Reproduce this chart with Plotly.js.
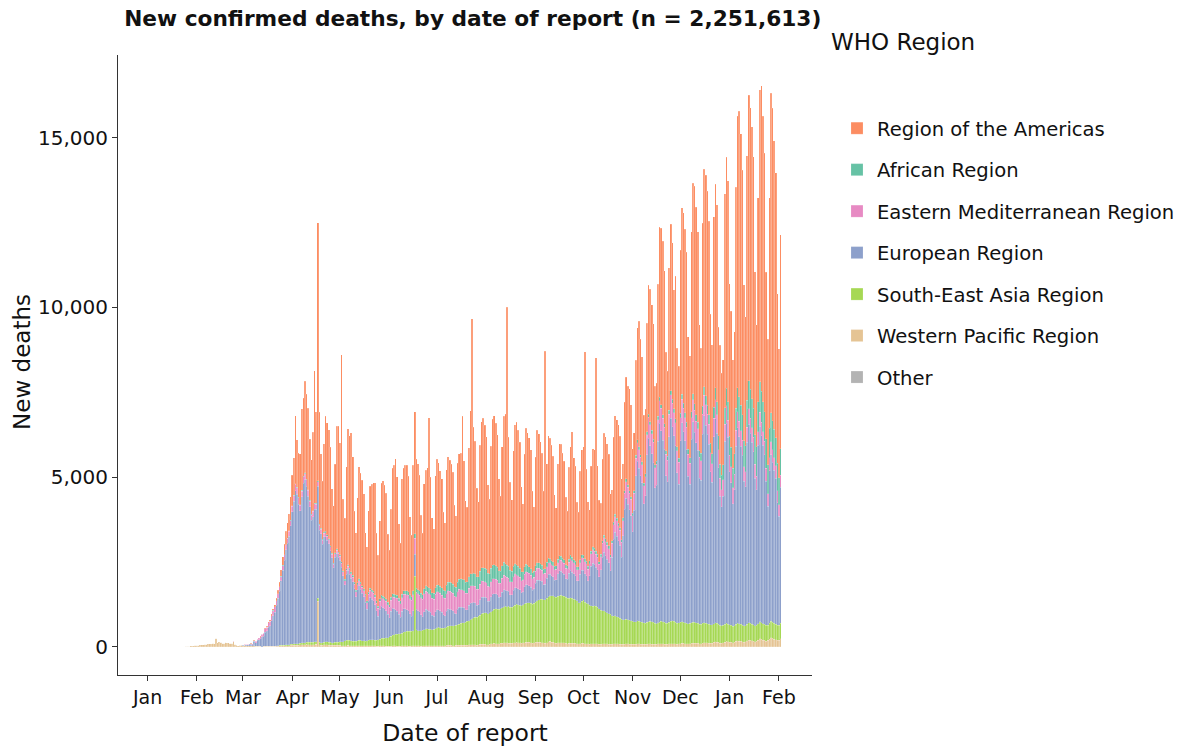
<!DOCTYPE html>
<html>
<head>
<meta charset="utf-8">
<script src="https://cdn.plot.ly/plotly-3.0.1.min.js"></script>
<style>html,body{margin:0;padding:0;background:#fff;}#chart{width:1183px;height:747px;}</style>
</head>
<body>
<div id="chart"></div>
<script>
// Daily values, one row per week (Mon..Sun), from 2020-01-20 to 2021-02-02
const startDate = '2020-01-20';
const monthTicks = ['Jan','Feb','Mar','Apr','May','Jun','Jul','Aug','Sep','Oct','Nov','Dec','Jan','Feb'];

const westernPacific = [
3,3,6,9,8,16,15,
24,26,26,38,43,46,45,
57,64,65,73,73,86,89,
97,108,97,254,121,143,142,
105,98,136,115,118,109,97,
150,71,52,29,44,47,35,
42,31,38,31,30,28,27,
22,17,22,11,7,13,10,
16,15,18,14,12,16,20,
22,25,28,30,32,35,30,
38,40,45,50,48,52,45,
55,60,62,65,70,66,60,
58,62,66,70,1340,60,52,
50,55,58,55,52,50,45,
40,45,45,42,40,38,35,
35,38,40,38,36,35,30,
28,30,32,30,30,28,25,
25,28,30,28,28,26,24,
22,25,26,25,25,24,22,
22,24,26,25,25,24,22,
22,25,28,26,25,24,22,
25,28,30,30,28,26,24,
28,30,32,32,30,28,26,
30,35,38,36,35,34,30,
35,40,42,40,40,38,35,
40,45,50,48,46,45,40,
50,55,60,58,56,55,50,
60,70,75,72,70,68,60,
80,90,95,100,95,90,85,
100,110,115,120,115,110,100,
110,120,125,130,125,120,110,
115,125,130,135,130,120,110,
120,130,140,135,130,125,115,
110,125,150,160,140,130,115,
105,115,120,125,120,115,100,
95,105,110,110,105,100,90,
85,95,100,100,95,90,85,
80,90,95,95,90,85,80,
75,85,90,90,85,80,75,
75,85,90,90,85,80,75,
70,80,85,85,80,75,70,
70,80,85,85,80,75,70,
70,80,85,85,80,75,70,
75,85,90,90,85,80,75,
80,90,95,95,90,85,80,
85,95,100,100,95,90,85,
90,100,110,110,105,100,90,
95,110,120,120,115,110,100,
110,130,150,140,130,110,100,
120,140,160,150,140,130,120,
140,160,180,170,160,150,140,
150,180,200,190,180,170,150,
170,200,240,220,200,190,170,
190,220,260,250,230,210,190,
200,240];

const southEastAsia = [
0,0,0,0,0,0,0,
0,0,0,0,0,0,0,
0,0,0,0,0,0,0,
0,0,0,0,0,0,0,
0,0,0,0,0,0,0,
0,0,0,0,0,0,0,
0,0,0,0,0,0,0,
0,0,0,1,1,2,2,
3,3,5,5,6,8,10,
12,15,18,20,20,22,25,
25,30,35,40,45,45,50,
50,55,60,60,65,70,70,
70,75,80,80,85,80,75,
75,80,85,90,90,85,80,
85,90,95,100,110,110,110,
140,150,160,150,140,135,130,
140,150,160,160,150,150,145,
160,170,180,180,175,170,165,
180,200,220,230,230,240,250,
280,290,310,330,340,350,360,
370,380,400,420,430,440,440,
440,450,2050,470,450,450,450,
460,480,500,500,490,490,480,
490,500,520,540,530,520,510,
520,540,560,580,580,580,580,
590,600,620,640,660,670,680,
700,720,740,770,800,820,820,
840,860,900,920,940,940,920,
920,940,970,1000,1020,1020,1020,
1020,1040,1070,1070,1070,1080,1060,
1060,1080,1100,1120,1120,1110,1100,
1120,1140,1150,1170,1170,1160,1150,
1170,1190,1220,1250,1270,1280,1270,
1280,1300,1330,1350,1360,1370,1360,
1360,1370,1390,1400,1390,1380,1360,
1330,1320,1330,1320,1300,1290,1260,
1220,1200,1240,1270,1220,1200,1180,
1140,1120,1100,1120,1100,1080,1040,
1000,980,970,940,920,900,880,
840,820,820,800,780,760,740,
720,710,720,710,700,690,680,
670,660,680,670,660,650,640,
620,640,660,670,660,650,620,
610,620,640,660,650,640,620,
620,640,660,670,660,640,620,
620,630,640,630,620,610,600,
600,610,620,610,600,590,580,
570,580,590,580,570,560,550,
540,550,560,550,540,530,520,
510,520,530,520,510,500,490,
480,500,520,510,500,490,480,
470,490,510,500,490,480,470,
460,480,500,490,480,470,460,
450,470,490,480,470,460,450,
440,460];

const european = [
0,0,0,0,0,0,0,
0,0,0,0,0,0,0,
0,0,0,0,0,0,0,
0,0,0,0,0,0,0,
0,0,0,0,0,0,0,
3,4,5,4,8,9,12,
18,27,28,41,49,38,135,
100,170,190,220,290,300,420,
450,560,600,750,900,1000,1200,
1400,1600,1900,2200,2500,2800,3000,
3200,3500,3900,4200,4500,4400,4100,
3900,4300,4700,4800,4600,4300,4000,
3600,3700,3900,3900,3300,3300,3200,
2900,3100,3100,3000,2900,2700,2500,
2200,2500,2600,2500,2400,2200,1950,
1650,1950,2050,1950,1850,1750,1550,
1300,1500,1600,1500,1400,1300,1150,
920,1150,1250,1200,1150,1050,880,
700,880,950,900,860,800,680,
560,740,800,760,720,680,580,
480,640,700,670,640,600,510,
440,580,640,610,580,550,470,
400,530,580,550,530,500,420,
380,500,540,520,500,470,400,
360,470,520,490,470,450,380,
350,460,500,480,460,440,370,
340,450,490,470,450,430,360,
340,450,490,470,450,430,360,
340,450,490,470,450,430,360,
350,460,500,480,460,440,370,
360,470,520,490,470,450,380,
380,500,550,520,500,480,400,
420,550,600,580,550,520,440,
460,600,660,630,600,570,480,
510,670,730,700,670,640,540,
560,740,810,770,740,700,600,
640,840,920,880,840,800,680,
880,1160,1270,1210,1160,1100,940,
1200,1580,1730,1650,1580,1500,1280,
1720,2260,2470,2370,2260,2150,1830,
2480,3260,3570,3410,3260,3100,2640,
3280,4300,4700,4500,4300,4100,3500,
3760,4940,5400,5170,4940,4700,4000,
4080,5350,5860,5610,5350,5100,4340,
4160,5460,5980,5720,5460,5200,4420,
4080,5350,5860,5610,5350,5100,4340,
4100,5400,5900,5600,5300,5100,4300,
4240,5570,6100,5830,5570,5300,4500,
4200,5500,6000,5600,4600,3800,3500,
3800,5400,5900,5500,4500,4200,3600,
4000,5250,5750,5500,5250,5000,4250,
4100,5350,5850,5600,5350,5100,4350,
4000,5250,5750,5500,5250,5000,4250,
3500,4500,4900,4700,4500,4300,3600,
3200,4000];

const easternMediterranean = [
0,0,0,0,0,0,0,
0,0,0,0,0,0,0,
0,0,0,0,0,0,0,
0,0,0,0,0,0,0,
0,0,0,2,0,2,3,
4,4,3,4,7,8,9,
11,12,15,15,16,17,21,
49,43,54,63,75,85,97,
113,129,135,147,149,149,123,
129,127,122,143,157,144,139,
140,140,165,160,195,185,190,
160,170,180,175,180,170,160,
150,150,160,150,140,135,130,
120,115,120,115,110,105,100,
100,100,110,110,115,115,110,
120,120,125,130,130,135,140,
150,155,160,165,170,180,180,
190,200,210,215,220,220,220,
230,240,250,260,270,280,290,
300,320,340,350,360,370,380,
390,400,420,430,440,450,450,
460,470,480,490,500,500,500,
510,520,530,520,520,510,500,
500,510,520,520,510,500,500,
510,520,530,530,520,510,500,
500,510,520,520,510,500,490,
490,500,510,500,490,480,470,
460,470,480,470,460,450,440,
430,440,450,440,430,420,410,
400,410,420,410,400,390,380,
380,390,400,390,380,370,360,
360,370,380,370,360,350,340,
340,350,360,350,340,330,320,
320,330,340,330,320,320,310,
310,320,330,330,320,320,310,
310,320,340,340,330,330,320,
330,340,360,360,350,350,340,
350,370,390,390,380,380,370,
380,400,420,420,410,410,400,
410,430,450,450,440,440,430,
450,470,490,490,480,480,470,
500,520,550,550,540,540,530,
560,580,610,610,600,600,590,
610,630,660,660,650,650,640,
640,660,690,690,680,670,660,
650,670,690,690,680,670,650,
620,640,650,650,640,630,610,
580,590,600,600,590,580,560,
540,550,560,550,540,530,510,
490,500,510,500,490,480,470,
460,470,480,470,460,450,440,
430,440,450,440,430,420,410,
400,410,420,410,400,390,380,
370,380,390,380,370,360,350,
350,360];

const african = [
0,0,0,0,0,0,0,
0,0,0,0,0,0,0,
0,0,0,0,0,0,0,
0,0,0,0,0,0,0,
0,0,0,0,0,0,0,
0,0,0,0,0,0,0,
0,0,0,0,0,0,0,
0,0,0,0,0,0,0,
1,1,2,2,3,3,3,
4,5,6,6,7,8,8,
10,12,12,14,15,15,15,
18,20,22,22,24,24,24,
25,26,28,28,30,30,30,
30,32,34,34,35,35,35,
36,38,40,40,42,42,42,
42,44,46,46,48,48,48,
48,50,52,52,54,54,54,
55,58,60,60,62,62,62,
65,68,70,72,74,74,74,
78,82,86,88,90,90,90,
95,100,105,108,110,110,110,
115,120,125,128,130,130,130,
140,150,160,165,170,170,170,
180,190,200,210,215,220,220,
230,240,250,260,270,270,270,
280,290,300,310,320,320,320,
330,340,350,360,370,370,370,
370,380,390,400,400,400,390,
380,390,400,400,390,380,370,
360,370,380,370,360,350,340,
320,310,300,290,280,270,260,
240,230,220,210,200,190,180,
170,165,160,155,150,145,140,
130,130,130,125,120,120,115,
110,110,110,110,105,105,100,
100,100,100,95,95,95,90,
90,90,90,88,88,86,85,
80,82,85,85,85,82,80,
78,80,82,82,82,80,78,
76,78,80,80,80,78,76,
75,77,80,80,80,78,76,
78,80,82,84,84,82,80,
85,88,90,92,92,90,88,
95,100,105,105,105,100,100,
110,115,120,120,120,118,115,
125,135,145,150,150,150,150,
160,170,180,190,195,200,200,
210,230,250,260,270,280,290,
300,330,360,380,400,410,420,
440,480,520,550,560,570,580,
600,650,700,720,740,750,760,
770,800,830,850,860,860,860,
860,880,900,900,890,880,870,
850,860,860,850,840,830,810,
790,780];

const americas = [
0,0,0,0,0,0,0,
0,0,0,0,0,0,0,
0,0,0,0,0,0,0,
0,0,0,0,0,0,0,
0,0,0,0,0,0,0,
0,0,0,0,0,0,0,
1,1,2,3,3,2,4,
5,6,8,10,10,12,15,
20,25,30,40,50,60,80,
100,130,200,250,300,400,450,
500,700,900,1100,2000,1400,1300,
1500,2400,2300,2700,2500,2400,1800,
1600,2300,3900,2700,7600,3300,2200,
1700,2600,3400,3300,3200,2900,1900,
1700,2600,3600,3700,3300,6100,2100,
1800,3000,4000,3900,4100,3500,2100,
1700,2500,3300,3200,3100,2800,1800,
1600,2400,3000,3100,3200,3300,2000,
1500,2300,3300,3400,3300,3100,2000,
1600,2600,3700,3800,4000,3500,2200,
1700,3400,3600,3700,3700,3400,2300,
1800,3700,3600,3800,3700,3400,2300,
1800,3100,3400,3500,5000,3300,2200,
1900,3300,3700,3600,3400,3200,2300,
2000,3400,3700,3600,3500,3300,2400,
2100,3500,3700,3700,4800,3500,2400,
2200,3800,4800,7500,4300,3900,2600,
2200,3700,4300,4400,4200,3900,2600,
2200,3600,4300,4400,4200,3900,2700,
2200,3500,4300,4400,7600,3800,2600,
2100,3400,4100,4200,4000,3700,2500,
2000,3300,4000,3900,3800,3500,2400,
1900,3200,3900,3800,3600,3300,2300,
6400,2900,3600,3550,3400,3100,2100,
1700,2800,3300,3300,3100,2900,2000,
1600,2700,3200,3700,3000,2800,1900,
1600,2600,3100,3200,6100,2700,1900,
1500,2500,2900,2900,5700,2600,1800,
1500,2400,3000,3000,2900,2700,1800,
1500,2500,2900,2900,2900,2700,1800,
1600,2600,3000,2900,3000,2700,1900,
1700,2800,3300,3700,3400,3100,2000,
1900,3200,3800,3900,3700,3400,2300,
2300,3900,5000,5200,5100,4500,2900,
2500,4200,4900,4600,3500,4200,2900,
2700,4800,5500,5600,5400,5000,3300,
3000,5300,6200,6400,6100,5600,3700,
3100,5400,6400,6500,6300,5700,3800,
3200,5600,6000,5800,3200,3500,3000,
3100,6300,6800,6500,4500,4000,3200,
3600,6500,8000,8400,8000,7200,4600,
3800,7200,8400,8300,8000,7400,4800,
3600,6000,8600,9000,8400,7600,4900,
3700,6800,9400,9200,8500,7800,5000,
3800,6300];

const otherDates = ['2020-02-20','2020-02-23','2020-02-26','2020-02-28','2020-03-01','2020-03-07','2020-03-14','2020-03-24','2020-04-15'];
const otherValues = [2,1,1,1,1,1,1,2,1];

const regionNames = ['Other','Western Pacific Region','South-East Asia Region','European Region','Eastern Mediterranean Region','African Region','Region of the Americas'];
const regionColors = ['#B3B3B3','#E5C494','#A6D854','#8DA0CB','#E78AC3','#66C2A5','#FC8D62'];
const legendRank = [7, 6, 5, 4, 3, 2, 1];

function buildDates(start, n) {
  const out = [];
  const t0 = Date.parse(start + 'T00:00:00Z');
  for (let i = 0; i < n; i++) {
    out.push(new Date(t0 + i * 86400000).toISOString().slice(0, 10));
  }
  return out;
}
const dates = buildDates(startDate, americas.length);

const series = [otherValues, westernPacific, southEastAsia, european, easternMediterranean, african, americas];
const FONT = 'DejaVu Sans, Verdana, sans-serif';

const traces = series.map((vals, i) => ({
  type: 'bar',
  name: regionNames[i],
  legendgroup: regionNames[i],
  legendrank: legendRank[i],
  x: i === 0 ? otherDates : dates,
  y: vals,
  marker: { color: regionColors[i], line: { width: 0.3, color: 'rgba(255,255,255,0.55)' } },
  hovertemplate: '%{x}<br>%{y}<extra>' + regionNames[i] + '</extra>'
}));

const layout = {
  width: 1183, height: 747,
  margin: { l: 118, r: 371, t: 55, b: 72, autoexpand: false },
  paper_bgcolor: '#fff', plot_bgcolor: '#fff',
  barmode: 'stack', bargap: 0,
  font: { family: FONT, color: '#111', size: 20 },
  title: {
    text: '<b>New confirmed deaths, by date of report (n = 2,251,613)</b>',
    xref: 'container', x: 0.105, xanchor: 'left',
    yref: 'container', y: 0.975, yanchor: 'middle',
    font: { family: FONT, size: 21.7, color: '#111' }
  },
  xaxis: {
    type: 'date',
    range: ['2019-12-13 10:00', '2021-02-21 19:00'],
    tick0: '2020-01-01', dtick: 'M1', tickformat: '%b',
    ticks: 'outside', ticklen: 5, tickcolor: '#333',
    showline: true, linecolor: '#333', linewidth: 1,
    showgrid: false, zeroline: false,
    tickfont: { family: FONT, size: 19, color: '#111' },
    title: { text: 'Date of report', font: { family: FONT, size: 23.5, color: '#111' } }
  },
  yaxis: {
    range: [-830, 17430],
    tickvals: [0, 5000, 10000, 15000],
    tickformat: ',d',
    ticks: 'outside', ticklen: 5, tickcolor: '#333',
    showline: true, linecolor: '#333', linewidth: 1,
    showgrid: false, zeroline: false,
    tickfont: { family: FONT, size: 20, color: '#111' }
  },
  legend: {
    x: 1.036, xanchor: 'left', y: 0.913, yanchor: 'top',
    traceorder: 'grouped', tracegroupgap: 13,
    font: { family: FONT, size: 19.6, color: '#111' },
    bgcolor: 'rgba(0,0,0,0)'
  },
  annotations: [{
    text: 'WHO Region', xref: 'paper', yref: 'paper',
    x: 1.024, xanchor: 'left', y: 1.021, yanchor: 'middle',
    showarrow: false, font: { family: FONT, size: 23, color: '#111' }
  }, {
    text: 'New deaths', xref: 'paper', yref: 'paper',
    x: -0.1383, xanchor: 'center', y: 0.505, yanchor: 'middle',
    textangle: -90, showarrow: false,
    font: { family: FONT, size: 23, color: '#111' }
  }]
};

Plotly.newPlot('chart', traces, layout, { staticPlot: true, displayModeBar: false });
</script>
</body>
</html>
